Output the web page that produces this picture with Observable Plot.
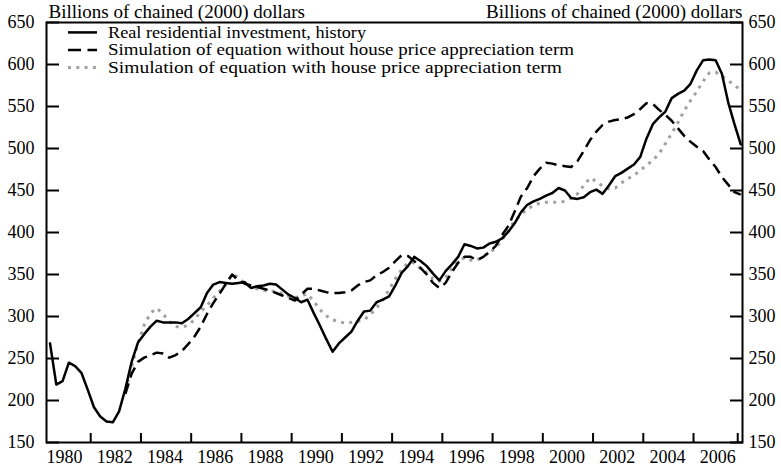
<!DOCTYPE html>
<html><head><meta charset="utf-8">
<script src="https://cdn.jsdelivr.net/npm/d3@7"></script>
<script src="https://cdn.jsdelivr.net/npm/@observablehq/plot@0.6"></script>
<style>
body{margin:0;background:#fff;}
#wrap{position:relative;width:781px;height:469px;}
</style></head><body><div id="wrap"></div>
<script>
// Quarterly data, 1980Q1 .. 2007Q3
const startYear = 1980;
const history = [268,219,223,245,241,233,213,192,181,175,174,187,214,246,269,279,288,295,293,293,
293,292,297,304,311,328,338,341,340,339,340,341,334,336,337,339,338,332,326,322,
317,320,304,289,273,258,268,275,282,295,306,307,317,320,324,337,352,360,371,366,
360,351,343,354,362,371,386,384,381,382,387,389,393,401,411,424,433,437,440,444,
447,453,450,441,440,442,448,451,446,456,467,471,476,481,490,512,529,537,544,560,
565,569,577,593,605,606,605,589,555,529,505];
// Simulations start 1983Q1 (quarter index 12)
const simStart = 12;
const simNoHPA = [208,232,246,251,254,257,256,251,254,259,267,276,288,303,316,327,339,350,
343,339,337,335,333,331,328,325,322,319,326,333,333,331,329,328,328,329,331,337,341,343,
349,353,358,366,373,372,366,358,350,340,334,340,353,364,371,371,367,371,377,384,
397,408,425,443,453,467,476,483,482,480,479,478,485,497,510,520,528,532,534,535,
537,541,547,554,553,546,540,533,524,515,508,502,497,487,478,466,457,448,445];
const simHPA = [212,240,268,290,304,310,303,294,288,287,290,296,306,313,322,330,338,350,
347,339,335,333,331,330,330,327,324,322,325,327,318,308,301,296,294,292,293,294,296,302,
310,320,332,345,356,364,364,357,352,345,342,346,357,366,370,367,367,372,376,382,
391,403,414,421,428,432,435,436,436,436,437,441,446,456,465,461,455,452,453,459,
464,468,474,480,486,494,506,518,531,545,557,568,580,590,591,586,581,575,570];

const seriesNames = ["Real residential investment, history",
  "Simulation of equation without house price appreciation term",
  "Simulation of equation with house price appreciation term"];
const yTitle = "Billions of chained (2000) dollars";
const yTicks = [150,200,250,300,350,400,450,500,550,600,650];
const labelYears = [1980,1982,1984,1986,1988,1990,1992,1994,1996,1998,2000,2002,2004,2006];
const labelOffset = 0.58;
const tickPositions = [1981.62,1983.62,1985.62,1987.62,1989.62,1991.62,1993.62,1995.62,1997.62,1999.62,2001.62,2003.62,2005.62,2007.38];

const q = i => startYear + i / 4;
const histRows = history.map((v, i) => ({t: q(i), v}));
const noRows = simNoHPA.map((v, i) => ({t: q(i + simStart), v}));
const hpaRows = simHPA.map((v, i) => ({t: q(i + simStart), v}));

const font = "'Liberation Serif', 'Times New Roman', serif";
const plot = Plot.plot({
  width: 781, height: 469,
  marginLeft: 46, marginRight: 39, marginTop: 22, marginBottom: 27,
  x: {domain: [1979.86, 2007.57], axis: null},
  y: {domain: [150, 650], axis: null},
  style: {fontFamily: font, fontSize: "18px", background: "white", color: "black", overflow: "visible"},
  marks: [
    Plot.line(hpaRows, {x: "t", y: "v", stroke: "#a0a0a0", strokeWidth: 3, strokeDasharray: "3,5.3", strokeLinecap: "butt"}),
    Plot.line(noRows, {x: "t", y: "v", stroke: "black", strokeWidth: 2.5, strokeDasharray: "11,6", strokeLinecap: "butt"}),
    Plot.line(histRows, {x: "t", y: "v", stroke: "black", strokeWidth: 2.5}),
    Plot.frame({stroke: "black", strokeWidth: 2}),
    Plot.axisY(yTicks, {anchor: "left", tickSize: -13, strokeWidth: 2, fill: "none", label: null}),
    Plot.axisY(yTicks, {anchor: "right", tickSize: -13, strokeWidth: 2, fill: "none", label: null}),
    Plot.axisY(yTicks, {anchor: "left", tickSize: 0, tickPadding: 12, label: null}),
    Plot.axisY(yTicks, {anchor: "right", tickSize: 0, tickPadding: 6, label: null}),
    Plot.axisX(tickPositions, {anchor: "bottom", tickSize: -9, strokeWidth: 2, fill: "none", label: null}),
    Plot.axisX(labelYears.map(y => y + labelOffset), {anchor: "bottom", tickSize: 0, tickPadding: 8, label: null,
      tickFormat: d => String(Math.round(d - labelOffset))}),
    Plot.text([yTitle], {frameAnchor: "top-left", dx: 2, dy: -18.2, fontSize: 19, textAnchor: "start", fill: "black"}),
    Plot.text([yTitle], {frameAnchor: "top-right", dy: -18.2, fontSize: 19, textAnchor: "end", fill: "black"})
  ]
});
const wrap = document.getElementById("wrap");
wrap.appendChild(plot);

// Legend overlay
const leg = d3.create("svg").attr("width", 781).attr("height", 80)
  .style("position", "absolute").style("left", "0px").style("top", "0px")
  .style("font-family", font).style("font-size", "16px");
const styles = [
  {stroke: "black", w: 2.5, dash: null, len: 258},
  {stroke: "black", w: 2.5, dash: "13,6.5", len: 466},
  {stroke: "#a0a0a0", w: 3, dash: "3,5.3", len: 454}
];
const rowY = [32.4, 50, 67.6];
seriesNames.forEach((name, k) => {
  const s = styles[k];
  const ln = leg.append("line").attr("x1", 68).attr("x2", 97).attr("y1", rowY[k]).attr("y2", rowY[k])
    .attr("stroke", s.stroke).attr("stroke-width", s.w);
  if (s.dash) ln.attr("stroke-dasharray", s.dash);
  leg.append("text").attr("x", 108).attr("y", rowY[k] + 5.2).attr("fill", "black")
    .attr("textLength", s.len).attr("lengthAdjust", "spacingAndGlyphs").text(name);
});
wrap.appendChild(leg.node());
</script></body></html>
